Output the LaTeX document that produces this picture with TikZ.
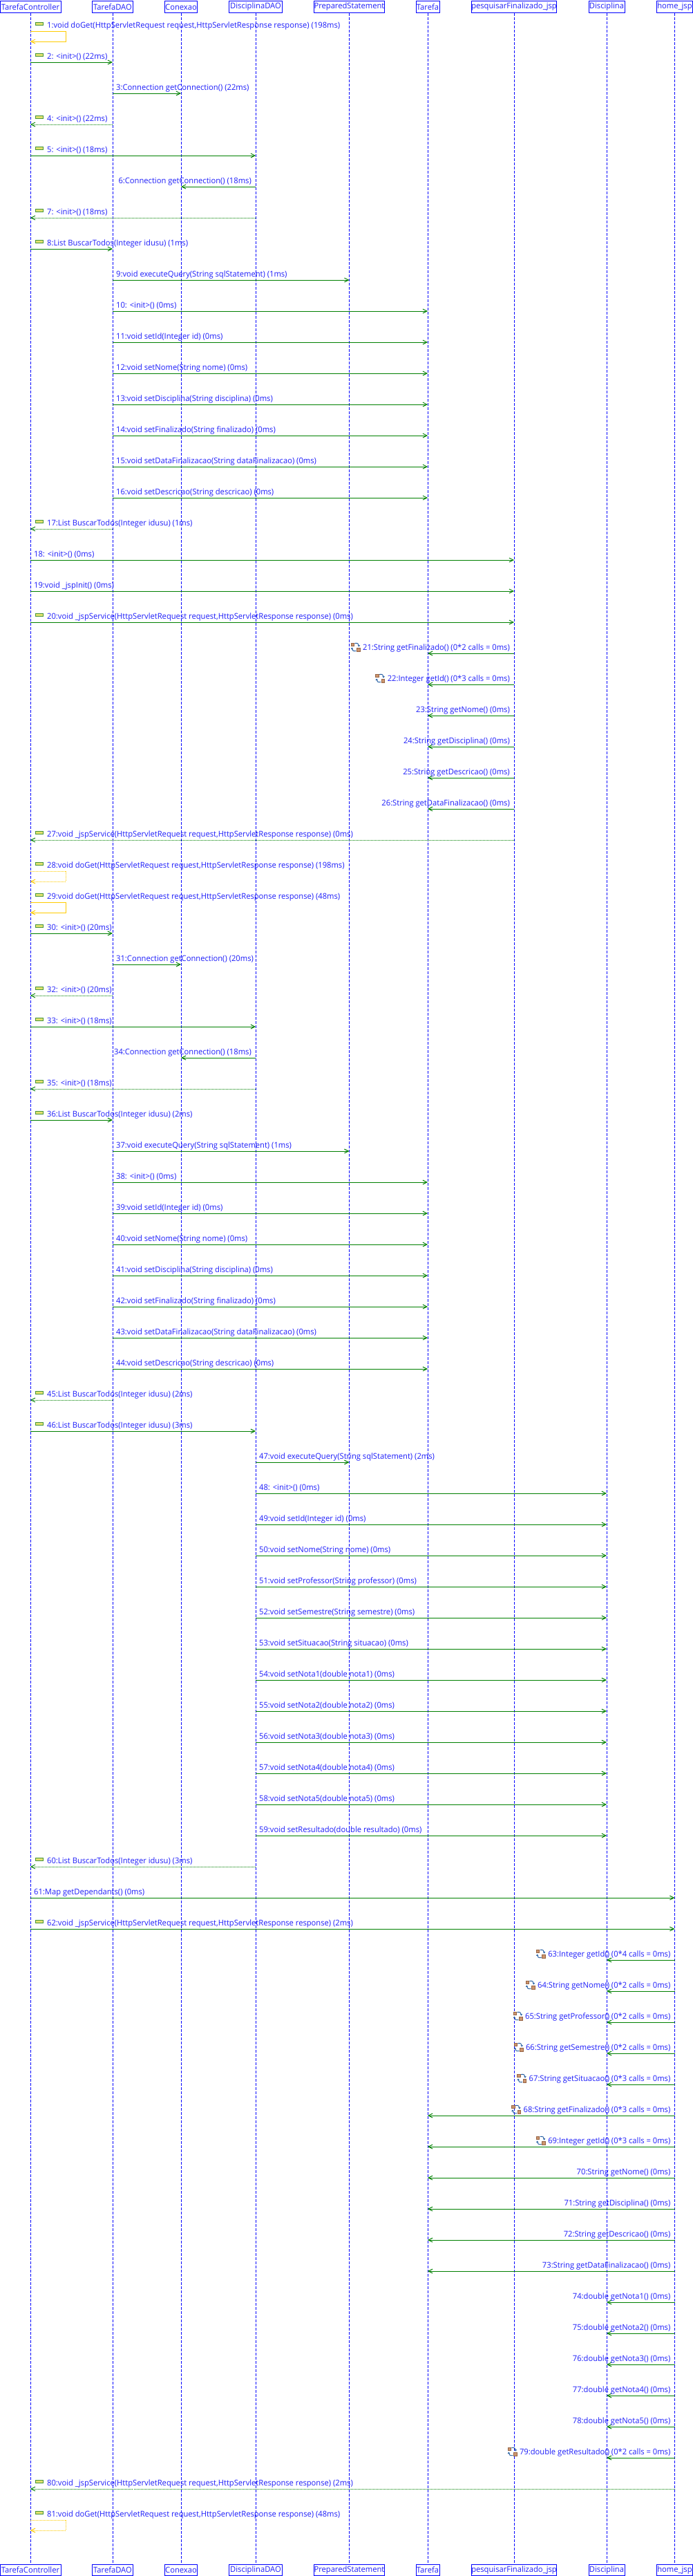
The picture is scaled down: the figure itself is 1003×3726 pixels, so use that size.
\documentclass[tikz,border=0pt]{standalone}
\usepackage{fontspec}
\usepackage{graphicx}
\usetikzlibrary{arrows.meta,calc}
\newfontfamily\lblfont{Open Sans}
\definecolor{lifeblue}{RGB}{0,0,255}
\definecolor{txtblue}{RGB}{30,30,250}
\definecolor{msggreen}{RGB}{0,128,0}
\definecolor{selfyel}{RGB}{255,204,0}
\definecolor{miconF}{RGB}{225,225,110}
\definecolor{miconD}{RGB}{70,150,60}
\definecolor{ltan}{RGB}{205,150,110}
\definecolor{ltanD}{RGB}{150,100,70}
\definecolor{lblue}{RGB}{30,90,160}
\newsavebox\measbox
\newcommand\lt[1]{\scalebox{\lxs}[1]{#1}}
\def\xTC{44}\def\xTD{163}\def\xCX{262}\def\xDD{370}\def\xPS{505.5}
\def\xTA{619}\def\xPF{744}\def\xDI{878}\def\xHJ{976.5}
\tikzset{
  lbl/.style={font=\lblfont\fontsize{11.5}{13}\selectfont, text=txtblue, inner sep=0pt},
  hbox/.style={draw=lifeblue, line width=1pt, fill=white, inner sep=0pt,
    font=\lblfont\fontsize{11.5}{13}\selectfont, text=txtblue},
  life/.style={draw=lifeblue, line width=1pt, dash pattern=on 4pt off 2pt},
  call/.style={draw=msggreen, line width=1pt, -{Straight Barb[length=6pt,width=6pt]}},
  ret/.style={draw=msggreen, line width=0.9pt, dash pattern=on 1pt off 1pt,
    -{Straight Barb[length=6pt,width=6pt]}},
  selfcall/.style={draw=selfyel, line width=1pt, -{Straight Barb[length=6pt,width=6pt]}},
  selfret/.style={draw=selfyel, line width=1pt, dash pattern=on 1pt off 1pt,
    -{Straight Barb[length=6pt,width=6pt]}},
  micon/.style={draw=miconD, fill=miconF, line width=0.8pt},
}
\newcommand\Micon{\draw[micon] (51.5,\yy-12.5) rectangle (62.5,\yy-8.5);}
\newcommand\Licon[1]{%
  \begin{scope}[shift={(#1)}]
    \filldraw[fill=ltan, draw=ltanD, line width=0.4pt] (-6.5,-6) rectangle (-2,-1.5);
    \filldraw[fill=ltan, draw=ltanD, line width=0.4pt] (2,1.5) rectangle (6.5,6);
    \draw[lblue, line width=0.9pt, -{Stealth[length=2.5pt,width=3.5pt]}]
      (-1,-5.5) .. controls (3,-6.5) and (5,-4.5) .. (5,-0.5);
    \draw[lblue, line width=0.9pt, -{Stealth[length=2.5pt,width=3.5pt]}]
      (1,5.5) .. controls (-3,6.5) and (-5,4.5) .. (-5,0.5);
  \end{scope}}
\newcommand\TopCall[3]{%
  \pgfmathsetmacro\yy{45*#1}
  \coordinate (m#1s) at (\xTC,\yy);
  \coordinate (m#1t) at (#2,\yy);
  \draw[call] (m#1s) -- (m#1t);
  \Micon
  \node[lbl,anchor=base west] (l#1) at (68,\yy-5) {\lt{#3}};}
\newcommand\TopRet[3]{%
  \pgfmathsetmacro\yy{45*#1}
  \coordinate (m#1s) at (#2,\yy);
  \coordinate (m#1t) at (\xTC,\yy);
  \draw[ret] (m#1s) -- (m#1t);
  \Micon
  \node[lbl,anchor=base west] (l#1) at (68,\yy-5) {\lt{#3}};}
\newcommand\PlainR[4]{%
  \pgfmathsetmacro\yy{45*#1}
  \coordinate (m#1s) at (#2,\yy);
  \coordinate (m#1t) at (#3,\yy);
  \draw[call] (m#1s) -- (m#1t);
  \node[lbl,anchor=base west] (l#1) at (#2+5,\yy-5) {\lt{#4}};}
\newcommand\PlainL[4]{%
  \pgfmathsetmacro\yy{45*#1}
  \coordinate (m#1s) at (#2,\yy);
  \coordinate (m#1t) at (#3,\yy);
  \draw[call] (m#1s) -- (m#1t);
  \node[lbl,anchor=base east] (l#1) at (#2-6,\yy-5) {\lt{#4}};}
\newcommand\LoopL[4]{%
  \PlainL{#1}{#2}{#3}{#4}
  \coordinate (ic#1) at ($(l#1.base west)+(-10.5,-4)$);
  \Licon{ic#1}}
\newcommand\SelfMsg[3]{%
  \pgfmathsetmacro\yy{45*#1}
  \coordinate (m#1s) at (\xTC,\yy);
  \coordinate (m#1a) at (95,\yy);
  \coordinate (m#1b) at (95,\yy+15);
  \coordinate (m#1t) at (\xTC,\yy+15);
  \draw[#2] (m#1s) -- (m#1a) -- (m#1b) -- (m#1t);
  \Micon
  \node[lbl,anchor=base west] (l#1) at (68,\yy-5) {\lt{#3}};}
\begin{document}
\sbox\measbox{\lblfont\fontsize{11.5}{13}\selectfont 1:void doGet(HttpServletRequest request,HttpServletResponse response) (198ms)}%
\pgfmathsetmacro\lxs{424/\the\wd\measbox}%
\begin{tikzpicture}[x=1pt,y=-1pt]
\useasboundingbox[fill=white] (0,0) rectangle (1003,3726);
% headers
\node[hbox,minimum width=88pt,minimum height=17pt] (hTC) at (\xTC,10) {\lt{TarefaController}};
\node[hbox,minimum width=59.5pt,minimum height=17pt] (hTD) at (\xTD,10) {\lt{TarefaDAO}};
\node[hbox,minimum width=47pt,minimum height=17pt] (hCX) at (\xCX,10) {\lt{Conexao}};
\node[hbox,minimum width=76.5pt,minimum height=17pt] (hDD) at (\xDD,10) {\lt{DisciplinaDAO}};
\node[hbox,minimum width=102pt,minimum height=17pt] (hPS) at (\xPS,10) {\lt{PreparedStatement}};
\node[hbox,minimum width=34pt,minimum height=17pt] (hTA) at (\xTA,10) {\lt{Tarefa}};
\node[hbox,minimum width=123.5pt,minimum height=17pt] (hPF) at (\xPF,10) {\lt{pesquisarFinalizado\_jsp}};
\node[hbox,minimum width=52pt,minimum height=17pt] (hDI) at (\xDI,10) {\lt{Disciplina}};
\node[hbox,minimum width=52pt,minimum height=17pt] (hHJ) at (\xHJ,10) {\lt{home\_jsp}};
\node[hbox,minimum width=88pt,minimum height=16pt] (bTC) at (\xTC,3717.5) {\lt{TarefaController}};
\node[hbox,minimum width=59.5pt,minimum height=16pt] (bTD) at (\xTD,3717.5) {\lt{TarefaDAO}};
\node[hbox,minimum width=47pt,minimum height=16pt] (bCX) at (\xCX,3717.5) {\lt{Conexao}};
\node[hbox,minimum width=76.5pt,minimum height=16pt] (bDD) at (\xDD,3717.5) {\lt{DisciplinaDAO}};
\node[hbox,minimum width=102pt,minimum height=16pt] (bPS) at (\xPS,3717.5) {\lt{PreparedStatement}};
\node[hbox,minimum width=34pt,minimum height=16pt] (bTA) at (\xTA,3717.5) {\lt{Tarefa}};
\node[hbox,minimum width=123.5pt,minimum height=16pt] (bPF) at (\xPF,3717.5) {\lt{pesquisarFinalizado\_jsp}};
\node[hbox,minimum width=52pt,minimum height=16pt] (bDI) at (\xDI,3717.5) {\lt{Disciplina}};
\node[hbox,minimum width=52pt,minimum height=16pt] (bHJ) at (\xHJ,3717.5) {\lt{home\_jsp}};
\foreach \k in {TC,TD,CX,DD,PS,TA,PF,DI,HJ}{\draw[life] (h\k.south) -- (b\k.north);}
% messages
\SelfMsg{1}{selfcall}{1:void doGet(HttpServletRequest request,HttpServletResponse response) (198ms)}
\TopCall{2}{\xTD}{2: <init>() (22ms)}
\PlainR{3}{\xTD}{\xCX}{3:Connection getConnection() (22ms)}
\TopRet{4}{\xTD}{4: <init>() (22ms)}
\TopCall{5}{\xDD}{5: <init>() (18ms)}
\PlainL{6}{\xDD}{\xCX}{6:Connection getConnection() (18ms)}
\TopRet{7}{\xDD}{7: <init>() (18ms)}
\TopCall{8}{\xTD}{8:List BuscarTodos(Integer idusu) (1ms)}
\PlainR{9}{\xTD}{\xPS}{9:void executeQuery(String sqlStatement) (1ms)}
\PlainR{10}{\xTD}{\xTA}{10: <init>() (0ms)}
\PlainR{11}{\xTD}{\xTA}{11:void setId(Integer id) (0ms)}
\PlainR{12}{\xTD}{\xTA}{12:void setNome(String nome) (0ms)}
\PlainR{13}{\xTD}{\xTA}{13:void setDisciplina(String disciplina) (0ms)}
\PlainR{14}{\xTD}{\xTA}{14:void setFinalizado(String finalizado) (0ms)}
\PlainR{15}{\xTD}{\xTA}{15:void setDataFinalizacao(String dataFinalizacao) (0ms)}
\PlainR{16}{\xTD}{\xTA}{16:void setDescricao(String descricao) (0ms)}
\TopRet{17}{\xTD}{17:List BuscarTodos(Integer idusu) (1ms)}
\PlainR{18}{\xTC}{\xPF}{18: <init>() (0ms)}
\PlainR{19}{\xTC}{\xPF}{19:void \_jspInit() (0ms)}
\TopCall{20}{\xPF}{20:void \_jspService(HttpServletRequest request,HttpServletResponse response) (0ms)}
\LoopL{21}{\xPF}{\xTA}{21:String getFinalizado() (0*2 calls = 0ms)}
\LoopL{22}{\xPF}{\xTA}{22:Integer getId() (0*3 calls = 0ms)}
\PlainL{23}{\xPF}{\xTA}{23:String getNome() (0ms)}
\PlainL{24}{\xPF}{\xTA}{24:String getDisciplina() (0ms)}
\PlainL{25}{\xPF}{\xTA}{25:String getDescricao() (0ms)}
\PlainL{26}{\xPF}{\xTA}{26:String getDataFinalizacao() (0ms)}
\TopRet{27}{\xPF}{27:void \_jspService(HttpServletRequest request,HttpServletResponse response) (0ms)}
\SelfMsg{28}{selfret}{28:void doGet(HttpServletRequest request,HttpServletResponse response) (198ms)}
\SelfMsg{29}{selfcall}{29:void doGet(HttpServletRequest request,HttpServletResponse response) (48ms)}
\TopCall{30}{\xTD}{30: <init>() (20ms)}
\PlainR{31}{\xTD}{\xCX}{31:Connection getConnection() (20ms)}
\TopRet{32}{\xTD}{32: <init>() (20ms)}
\TopCall{33}{\xDD}{33: <init>() (18ms)}
\PlainL{34}{\xDD}{\xCX}{34:Connection getConnection() (18ms)}
\TopRet{35}{\xDD}{35: <init>() (18ms)}
\TopCall{36}{\xTD}{36:List BuscarTodos(Integer idusu) (2ms)}
\PlainR{37}{\xTD}{\xPS}{37:void executeQuery(String sqlStatement) (1ms)}
\PlainR{38}{\xTD}{\xTA}{38: <init>() (0ms)}
\PlainR{39}{\xTD}{\xTA}{39:void setId(Integer id) (0ms)}
\PlainR{40}{\xTD}{\xTA}{40:void setNome(String nome) (0ms)}
\PlainR{41}{\xTD}{\xTA}{41:void setDisciplina(String disciplina) (0ms)}
\PlainR{42}{\xTD}{\xTA}{42:void setFinalizado(String finalizado) (0ms)}
\PlainR{43}{\xTD}{\xTA}{43:void setDataFinalizacao(String dataFinalizacao) (0ms)}
\PlainR{44}{\xTD}{\xTA}{44:void setDescricao(String descricao) (0ms)}
\TopRet{45}{\xTD}{45:List BuscarTodos(Integer idusu) (2ms)}
\TopCall{46}{\xDD}{46:List BuscarTodos(Integer idusu) (3ms)}
\PlainR{47}{\xDD}{\xPS}{47:void executeQuery(String sqlStatement) (2ms)}
\PlainR{48}{\xDD}{\xDI}{48: <init>() (0ms)}
\PlainR{49}{\xDD}{\xDI}{49:void setId(Integer id) (0ms)}
\PlainR{50}{\xDD}{\xDI}{50:void setNome(String nome) (0ms)}
\PlainR{51}{\xDD}{\xDI}{51:void setProfessor(String professor) (0ms)}
\PlainR{52}{\xDD}{\xDI}{52:void setSemestre(String semestre) (0ms)}
\PlainR{53}{\xDD}{\xDI}{53:void setSituacao(String situacao) (0ms)}
\PlainR{54}{\xDD}{\xDI}{54:void setNota1(double nota1) (0ms)}
\PlainR{55}{\xDD}{\xDI}{55:void setNota2(double nota2) (0ms)}
\PlainR{56}{\xDD}{\xDI}{56:void setNota3(double nota3) (0ms)}
\PlainR{57}{\xDD}{\xDI}{57:void setNota4(double nota4) (0ms)}
\PlainR{58}{\xDD}{\xDI}{58:void setNota5(double nota5) (0ms)}
\PlainR{59}{\xDD}{\xDI}{59:void setResultado(double resultado) (0ms)}
\TopRet{60}{\xDD}{60:List BuscarTodos(Integer idusu) (3ms)}
\PlainR{61}{\xTC}{\xHJ}{61:Map getDependants() (0ms)}
\TopCall{62}{\xHJ}{62:void \_jspService(HttpServletRequest request,HttpServletResponse response) (2ms)}
\LoopL{63}{\xHJ}{\xDI}{63:Integer getId() (0*4 calls = 0ms)}
\LoopL{64}{\xHJ}{\xDI}{64:String getNome() (0*2 calls = 0ms)}
\LoopL{65}{\xHJ}{\xDI}{65:String getProfessor() (0*2 calls = 0ms)}
\LoopL{66}{\xHJ}{\xDI}{66:String getSemestre() (0*2 calls = 0ms)}
\LoopL{67}{\xHJ}{\xDI}{67:String getSituacao() (0*3 calls = 0ms)}
\LoopL{68}{\xHJ}{\xTA}{68:String getFinalizado() (0*3 calls = 0ms)}
\LoopL{69}{\xHJ}{\xTA}{69:Integer getId() (0*3 calls = 0ms)}
\PlainL{70}{\xHJ}{\xTA}{70:String getNome() (0ms)}
\PlainL{71}{\xHJ}{\xTA}{71:String getDisciplina() (0ms)}
\PlainL{72}{\xHJ}{\xTA}{72:String getDescricao() (0ms)}
\PlainL{73}{\xHJ}{\xTA}{73:String getDataFinalizacao() (0ms)}
\PlainL{74}{\xHJ}{\xDI}{74:double getNota1() (0ms)}
\PlainL{75}{\xHJ}{\xDI}{75:double getNota2() (0ms)}
\PlainL{76}{\xHJ}{\xDI}{76:double getNota3() (0ms)}
\PlainL{77}{\xHJ}{\xDI}{77:double getNota4() (0ms)}
\PlainL{78}{\xHJ}{\xDI}{78:double getNota5() (0ms)}
\LoopL{79}{\xHJ}{\xDI}{79:double getResultado() (0*2 calls = 0ms)}
\TopRet{80}{\xHJ}{80:void \_jspService(HttpServletRequest request,HttpServletResponse response) (2ms)}
\SelfMsg{81}{selfret}{81:void doGet(HttpServletRequest request,HttpServletResponse response) (48ms)}
\end{tikzpicture}
\end{document}
